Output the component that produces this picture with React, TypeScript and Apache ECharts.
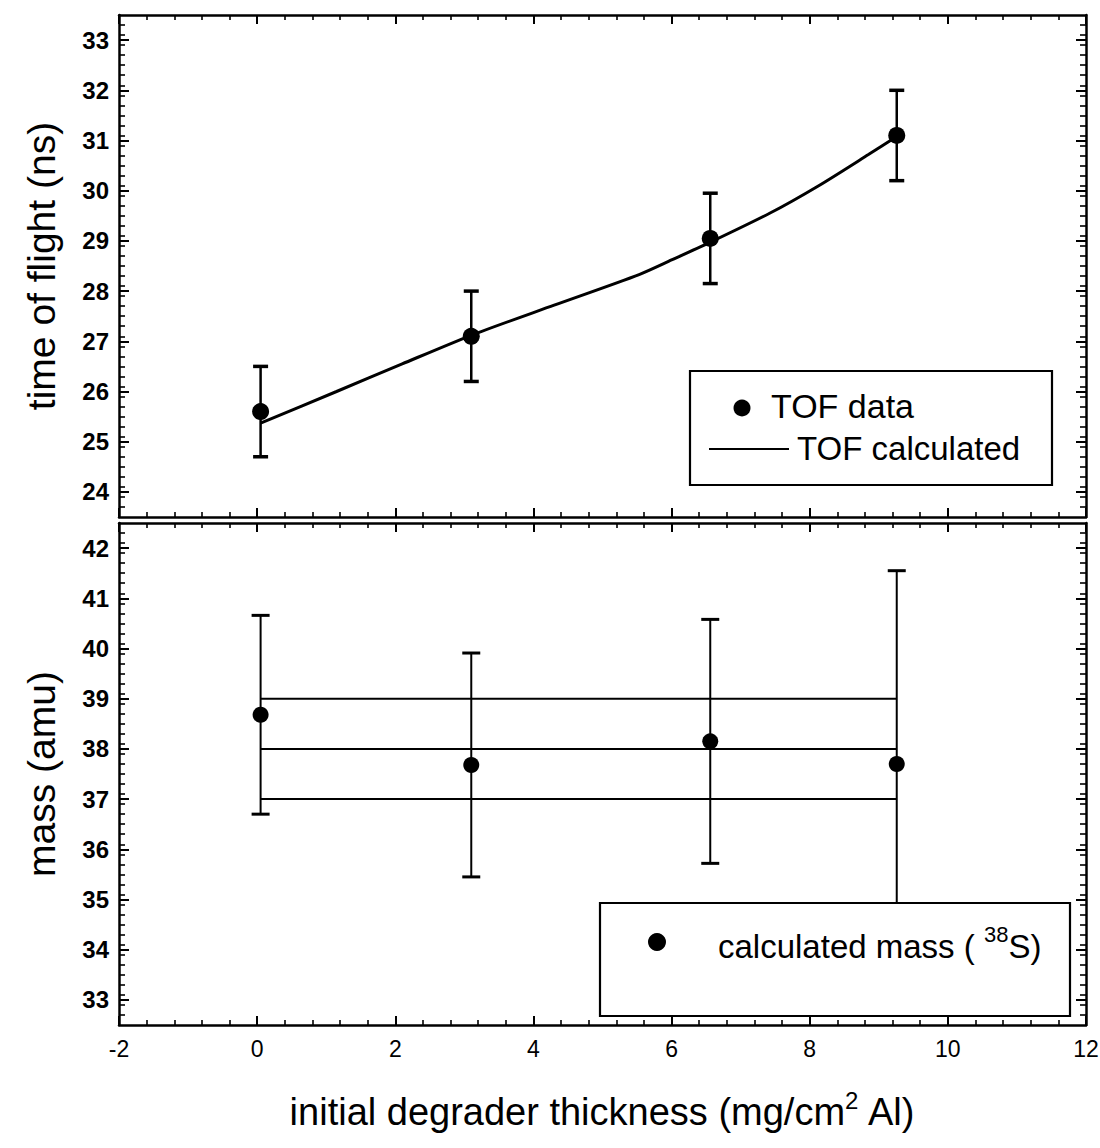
import React, { useEffect, useRef } from "react";
import * as echarts from "echarts";

// Degrader thickness (mg/cm^2 Al) of the four measurements
const thickness = [0.05, 3.1, 6.56, 9.26];

// Upper panel: time of flight
const tofMeasured = [25.6, 27.1, 29.05, 31.1];
const tofError = [0.9, 0.9, 0.9, 0.9];
const tofCalcX = [0.05, 1.15, 2.1, 3.1, 4.3, 5.53, 6.0, 6.54, 7.42, 8.13, 8.85, 9.26];
const tofCalcY = [25.37, 26.0, 26.55, 27.12, 27.72, 28.33, 28.62, 28.96, 29.55, 30.1, 30.72, 31.08];

// Lower panel: reconstructed mass
const massValues = [38.68, 37.68, 38.15, 37.7];
const massError = [1.98, 2.23, 2.43, 3.85];
const massBands = [39, 38, 37];

// Axis ranges and tick labels
const xRange = [-2, 12];
const tofRange = [23.5, 33.5];
const massRange = [32.5, 42.5];
const xTickLabels = [-2, 0, 2, 4, 6, 8, 10, 12];
const tofTickLabels = [24, 25, 26, 27, 28, 29, 30, 31, 32, 33];
const massTickLabels = [33, 34, 35, 36, 37, 38, 39, 40, 41, 42];

const FONT = "Liberation Sans, Arial, Helvetica, sans-serif";
const INK = "#000";

// Evenly spaced minor tick positions inside an axis range
function minorTicks(lo: number, hi: number, step: number): number[] {
  const out: number[] = [];
  const n = Math.round((hi - lo) / step);
  for (let k = 0; k <= n; k++) {
    const v = Math.round((lo + k * step) * 1000) / 1000;
    if (v > lo && v < hi) out.push(v);
  }
  return out;
}

const GRID_LEFT = 119;
const GRID_WIDTH = 967;
const TOP_Y = 15;
const PANEL_H = 502;
const BOTTOM_Y = 523;

function xAxes(gridIndex: number, withLabels: boolean) {
  const common = {
    type: "value",
    gridIndex,
    min: xRange[0],
    max: xRange[1],
    splitLine: { show: false },
  };
  const major = {
    ...common,
    axisLine: { show: true, onZero: false, lineStyle: { color: INK, width: 2.5 } },
    axisTick: { show: true, inside: true, length: 9, customValues: xTickLabels, lineStyle: { color: INK, width: 2 } },
  };
  const minor = {
    ...common,
    axisLine: { show: false, onZero: false },
    axisLabel: { show: false },
    axisTick: {
      show: true,
      inside: true,
      length: 5,
      customValues: minorTicks(xRange[0], xRange[1], 0.4),
      lineStyle: { color: INK, width: 1.6 },
    },
  };
  return [
    {
      ...major,
      position: "bottom",
      axisLabel: {
        show: withLabels,
        customValues: xTickLabels,
        color: INK,
        fontFamily: FONT,
        fontSize: 23,
        margin: 12,
      },
      ...(withLabels
        ? {
            name: "initial degrader thickness (mg/cm{sup|2} Al)",
            nameLocation: "middle",
            nameGap: 63,
            nameTextStyle: {
              color: INK,
              fontFamily: FONT,
              fontSize: 38,
              lineHeight: 48,
              rich: {
                sup: { fontFamily: FONT, fontSize: 24, color: INK, verticalAlign: "top" },
              },
            },
          }
        : {}),
    },
    { ...major, position: "top", axisLabel: { show: false } },
    { ...minor, position: "bottom" },
    { ...minor, position: "top" },
  ];
}

function yAxes(gridIndex: number, range: number[], labels: number[], name: string) {
  const common = {
    type: "value",
    gridIndex,
    min: range[0],
    max: range[1],
    splitLine: { show: false },
  };
  const major = {
    ...common,
    axisLine: { show: true, onZero: false, lineStyle: { color: INK, width: 2.5 } },
    axisTick: { show: true, inside: true, length: 10, customValues: labels, lineStyle: { color: INK, width: 2 } },
  };
  const minor = {
    ...common,
    axisLine: { show: false, onZero: false },
    axisLabel: { show: false },
    axisTick: {
      show: true,
      inside: true,
      length: 6,
      customValues: minorTicks(range[0], range[1], 0.2),
      lineStyle: { color: INK, width: 1.6 },
    },
  };
  return [
    {
      ...major,
      position: "left",
      axisLabel: {
        show: true,
        customValues: labels,
        color: INK,
        fontFamily: FONT,
        fontWeight: "bold",
        fontSize: 24,
        margin: 10,
      },
      name,
      nameLocation: "middle",
      nameGap: 58,
      nameTextStyle: { color: INK, fontFamily: FONT, fontSize: 39 },
    },
    { ...major, position: "right", axisLabel: { show: false } },
    { ...minor, position: "left" },
    { ...minor, position: "right" },
  ];
}

function errorBars(xAxisIndex: number, yAxisIndex: number, ys: number[], errs: number[], width: number, cap: number) {
  return {
    type: "custom",
    xAxisIndex,
    yAxisIndex,
    z: 3,
    encode: { x: 0, y: 1 },
    data: thickness.map((x, i) => [x, ys[i], errs[i]]),
    renderItem: (_params: any, api: any) => {
      const x = api.value(0);
      const y = api.value(1);
      const e = api.value(2);
      const hi = api.coord([x, y + e]);
      const lo = api.coord([x, y - e]);
      const style = { stroke: INK, lineWidth: width };
      return {
        type: "group",
        children: [
          { type: "line", shape: { x1: hi[0], y1: hi[1], x2: lo[0], y2: lo[1] }, style },
          { type: "line", shape: { x1: hi[0] - cap, y1: hi[1], x2: hi[0] + cap, y2: hi[1] }, style: { ...style, lineWidth: width + 1 } },
          { type: "line", shape: { x1: lo[0] - cap, y1: lo[1], x2: lo[0] + cap, y2: lo[1] }, style: { ...style, lineWidth: width + 1 } },
        ],
      };
    },
  };
}

function legendBox(x: number, y: number, w: number, h: number, children: any[]) {
  return {
    type: "group",
    z: 100,
    children: [
      {
        type: "rect",
        z: 100,
        shape: { x, y, width: w, height: h },
        style: { fill: "#fff", stroke: INK, lineWidth: 2.2 },
      },
      ...children.map((c) => ({ z: 101, ...c })),
    ],
  };
}

export default function App() {
  const ref = useRef<HTMLDivElement>(null);

  useEffect(() => {
    document.body.style.margin = "0";
    if (!ref.current) return;
    const chart = echarts.init(ref.current, undefined, { renderer: "svg" });

    const option: any = {
      animation: false,
      backgroundColor: "#fff",
      grid: [
        { left: GRID_LEFT, top: TOP_Y, width: GRID_WIDTH, height: PANEL_H, outerBoundsMode: "none" },
        { left: GRID_LEFT, top: BOTTOM_Y, width: GRID_WIDTH, height: PANEL_H, outerBoundsMode: "none" },
      ],
      xAxis: [...xAxes(0, false), ...xAxes(1, true)],
      yAxis: [
        ...yAxes(0, tofRange, tofTickLabels, "time of flight (ns)"),
        ...yAxes(1, massRange, massTickLabels, "mass (amu)"),
      ],
      series: [
        {
          name: "TOF calculated",
          type: "line",
          xAxisIndex: 0,
          yAxisIndex: 0,
          smooth: 0.25,
          showSymbol: false,
          lineStyle: { color: INK, width: 3 },
          data: tofCalcX.map((x, i) => [x, tofCalcY[i]]),
        },
        errorBars(0, 0, tofMeasured, tofError, 2.5, 7.5),
        {
          name: "TOF data",
          type: "scatter",
          xAxisIndex: 0,
          yAxisIndex: 0,
          symbol: "circle",
          symbolSize: 17,
          itemStyle: { color: INK, opacity: 1 },
          z: 4,
          data: thickness.map((x, i) => [x, tofMeasured[i]]),
        },
        ...massBands.map((b) => ({
          name: `mass ${b}`,
          type: "line",
          xAxisIndex: 4,
          yAxisIndex: 4,
          showSymbol: false,
          lineStyle: { color: INK, width: 2 },
          data: [
            [thickness[0], b],
            [thickness[thickness.length - 1], b],
          ],
        })),
        errorBars(4, 4, massValues, massError, 2, 9),
        {
          name: "calculated mass",
          type: "scatter",
          xAxisIndex: 4,
          yAxisIndex: 4,
          symbol: "circle",
          symbolSize: 16,
          itemStyle: { color: INK, opacity: 1 },
          z: 4,
          data: thickness.map((x, i) => [x, massValues[i]]),
        },
      ],
      graphic: [
        legendBox(690, 371, 362, 114, [
          { type: "circle", shape: { cx: 742, cy: 408, r: 8.5 }, style: { fill: INK } },
          {
            type: "text",
            x: 771,
            y: 406,
            style: { text: "TOF data", fill: INK, font: `34px ${FONT}`, verticalAlign: "middle" },
          },
          { type: "line", shape: { x1: 709, y1: 449, x2: 789, y2: 449 }, style: { stroke: INK, lineWidth: 2.2 } },
          {
            type: "text",
            x: 797,
            y: 448,
            style: { text: "TOF calculated", fill: INK, font: `33px ${FONT}`, verticalAlign: "middle" },
          },
        ]),
        legendBox(600, 903, 470, 113, [
          { type: "circle", shape: { cx: 657, cy: 942, r: 9 }, style: { fill: INK } },
          {
            type: "text",
            x: 718,
            y: 946,
            style: {
              text: "calculated mass ( {sup|38}S)",
              fill: INK,
              font: `33px ${FONT}`,
              lineHeight: 46,
              verticalAlign: "middle",
              rich: {
                sup: { fontFamily: FONT, fontSize: 22, fill: INK, verticalAlign: "top" },
              },
            },
          },
        ]),
      ],
    };

    chart.setOption(option);
    return () => chart.dispose();
  }, []);

  return (
    <div
      ref={ref}
      style={{ position: "absolute", left: 0, top: 0, width: 1100, height: 1148, background: "#fff" }}
    />
  );
}
